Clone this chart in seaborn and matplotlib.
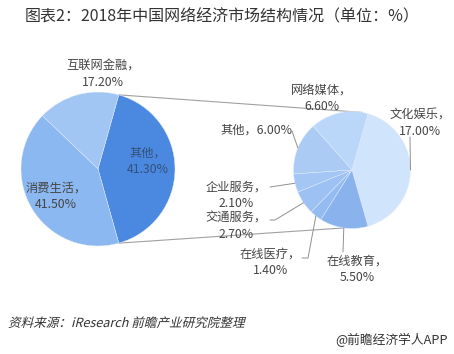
import numpy as np
import seaborn as sns
import matplotlib.pyplot as plt
from matplotlib.textpath import TextPath
from matplotlib.patches import PathPatch
from matplotlib.font_manager import FontProperties
from matplotlib.transforms import Affine2D

# 2018 China internet economy market structure (%)
main_labels = ["其他", "互联网金融", "消费生活"]
main_values = [41.30, 17.20, 41.50]

# breakdown of "其他" shown in the second pie
sub_labels = ["文化娱乐", "网络媒体", "其他", "企业服务", "交通服务", "在线医疗", "在线教育"]
sub_values = [17.00, 6.60, 6.00, 2.10, 2.70, 1.40, 5.50]

main_colors = ["#4a89df", "#a2c6f4", "#8bb8f0"]
sub_colors = ["#d0e4fc", "#bad6f8", "#abcbf5", "#a4c6f4", "#9dc1f3", "#95bcf1", "#8ab3ee"]

W, H = 454, 354
sns.set_theme(style="white")
plt.rcParams['font.family'] = ['Noto Sans CJK SC', 'DejaVu Sans']

fig = plt.figure(figsize=(W / 100, H / 100), dpi=100)
ax = fig.add_axes([0, 0, 1, 1])


def py(y):
    # pixel row -> data y (y axis points up)
    return H - y


def on_circle(c, r, deg):
    t = np.deg2rad(deg)
    return c[0] + r * np.cos(t), c[1] + r * np.sin(t)


c1, r1 = (98, py(169)), 77
c2, r2 = (352, py(170)), 58.5

start1 = -main_values[0] / sum(main_values) * 360 / 2
start2 = -sub_values[0] / sum(sub_values) * 360 / 2
wp = dict(edgecolor="#e6effb", linewidth=0.3)
w1, _ = ax.pie(main_values, colors=main_colors, center=c1, radius=r1,
               startangle=start1, counterclock=True, wedgeprops=wp)
w2, _ = ax.pie(sub_values, colors=sub_colors, center=c2, radius=r2,
               startangle=start2, counterclock=True, wedgeprops=wp)

# connector lines between the two pies
line_kw = dict(color="#a0a0a0", lw=0.8, zorder=0)
p_top = on_circle(c1, r1, w1[0].theta2)
p_bot = on_circle(c1, r1, w1[0].theta1)
q_top = on_circle(c2, r2, 80)
q_bot = on_circle(c2, r2, 262)
ax.plot([p_top[0], q_top[0]], [p_top[1], q_top[1]], **line_kw)
ax.plot([p_bot[0], q_bot[0]], [p_bot[1], q_bot[1]], **line_kw)

txt = "#454545"
fs = 8.8

# main pie labels
main_pos = {"其他": (148, 161), "互联网金融": (103, 74), "消费生活": (56, 196)}
for lab, val in zip(main_labels, main_values):
    x, y = main_pos[lab]
    col = "#34507a" if lab == "其他" else txt
    ax.text(x, py(y), f"{lab}，\n{val:.2f}%", ha="center", va="center",
            fontsize=fs, color=col, linespacing=1.35)

# sub pie labels: text position and leader path (pixel rows)
sub_pos = {
    "文化娱乐": ((420, 123), [(410, 137)]),
    "网络媒体": ((322, 98), None),
    "其他": ((256, 130), [(292, 131)]),
    "企业服务": ((236, 195), [(270, 187)]),
    "交通服务": ((236, 226), [(275, 220), (270, 220)]),
    "在线医疗": ((270, 262), [(308, 258), (302, 258)]),
    "在线教育": ((357, 269), [(343, 252)]),
}
for wedge, lab, val in zip(w2, sub_labels, sub_values):
    (x, y), path = sub_pos[lab]
    if lab == "其他":
        s = f"{lab}，{val:.2f}%"
    else:
        s = f"{lab}，\n{val:.2f}%"
    ax.text(x, py(y), s, ha="center", va="center", fontsize=fs,
            color=txt, linespacing=1.35)
    if path:
        mid = (wedge.theta1 + wedge.theta2) / 2
        sx, sy = on_circle(c2, r2, mid)
        xs = [sx] + [p[0] for p in path]
        ys = [sy] + [py(p[1]) for p in path]
        ax.plot(xs, ys, color="#909090", lw=0.7)

ax.text(25, py(17), "图表2：2018年中国网络经济市场结构情况（单位：%）",
        ha="left", va="center", fontsize=11.5, color="#333333")

# source note in slanted type (the CJK font has no italic face)
fp = FontProperties(family="Noto Sans CJK SC")
tp = TextPath((0, 0), "资料来源：iResearch 前瞻产业研究院整理", size=12.6, prop=fp)
tr = Affine2D().skew_deg(14, 0).translate(8, py(327)) + ax.transData
ax.add_patch(PathPatch(tp, transform=tr, color="#333333", lw=0))

ax.text(448, py(340), "@前瞻经济学人APP", ha="right", va="center",
        fontsize=9.2, color="#333333")

ax.set_xlim(0, W)
ax.set_ylim(0, H)
ax.axis("off")
fig.savefig("out.png", dpi=100)
